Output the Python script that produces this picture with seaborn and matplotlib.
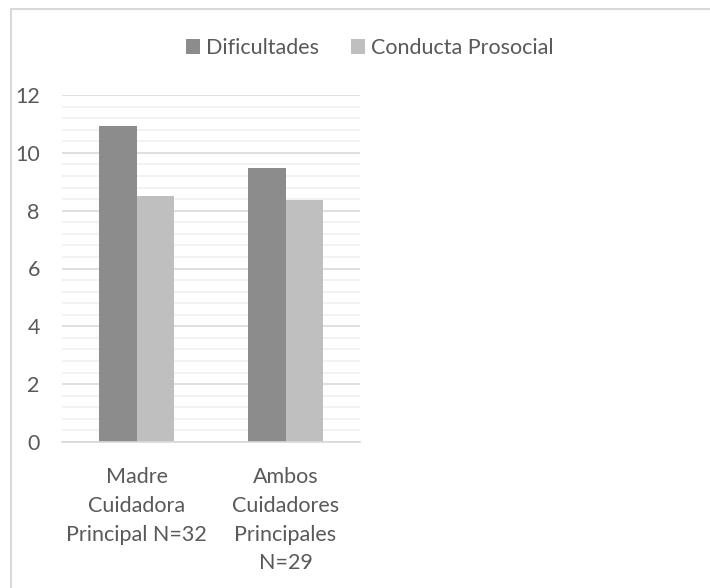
import pandas as pd
import matplotlib.pyplot as plt
import seaborn as sns
from matplotlib.patches import Rectangle
from matplotlib.ticker import MultipleLocator

# Datos
grupos = ['Madre\nCuidadora\nPrincipal N=32', 'Ambos\nCuidadores\nPrincipales\nN=29']
series = ['Dificultades', 'Conducta Prosocial']
dificultades = [10.93, 9.47]
prosocial = [8.49, 8.37]

df = pd.DataFrame({
    'grupo': grupos * 2,
    'serie': [series[0]] * 2 + [series[1]] * 2,
    'valor': dificultades + prosocial,
})

sns.set_style('white')
plt.rcParams['font.family'] = ['Lato', 'DejaVu Sans']
gris_texto = '#595959'
tam = 15.5

fig = plt.figure(figsize=(7.1, 5.88), dpi=100)
ax = fig.add_axes([62 / 710, 1 - 442 / 588, 298 / 710, 347 / 588])

sns.barplot(data=df, x='grupo', y='valor', hue='serie',
            palette=['#8c8c8c', '#bfbfbf'], width=0.5, ax=ax,
            saturation=1, linewidth=0)

ax.set_ylim(0, 12)
ax.set_xlim(-0.5, 1.5)
ax.yaxis.set_major_locator(MultipleLocator(2))
ax.yaxis.set_minor_locator(MultipleLocator(0.4))
ax.grid(axis='y', which='major', color='#d9d9d9', linewidth=1.2)
ax.grid(axis='y', which='minor', color='#f0f0f0', linewidth=1.2)
ax.set_axisbelow(True)
for lado in ['top', 'right', 'left']:
    ax.spines[lado].set_visible(False)
ax.spines['bottom'].set_color('#d9d9d9')
ax.spines['bottom'].set_linewidth(1.2)
ax.tick_params(axis='both', which='both', length=0, labelsize=tam, colors=gris_texto)
ax.tick_params(axis='x', pad=18)
ax.tick_params(axis='y', pad=16)
for t in ax.get_xticklabels():
    t.set_linespacing(1.55)
ax.set_xlabel('')
ax.set_ylabel('')

# leyenda arriba
h, l = ax.get_legend_handles_labels()
ax.get_legend().remove()
fig.legend(h, l, loc='center', bbox_to_anchor=(370 / 710, 1 - 48 / 588), ncol=2,
           frameon=False, fontsize=tam, labelcolor=gris_texto,
           handlelength=0.65, handleheight=0.65, handletextpad=0.28, columnspacing=1.5)

# borde del area del grafico
fig.patches.append(Rectangle((11 / 710, -0.1), 1.2, 1 - 9 / 588 + 0.1,
                             transform=fig.transFigure, fill=False,
                             edgecolor='#d9d9d9', linewidth=1.5))

fig.savefig('out.png', dpi=100)
